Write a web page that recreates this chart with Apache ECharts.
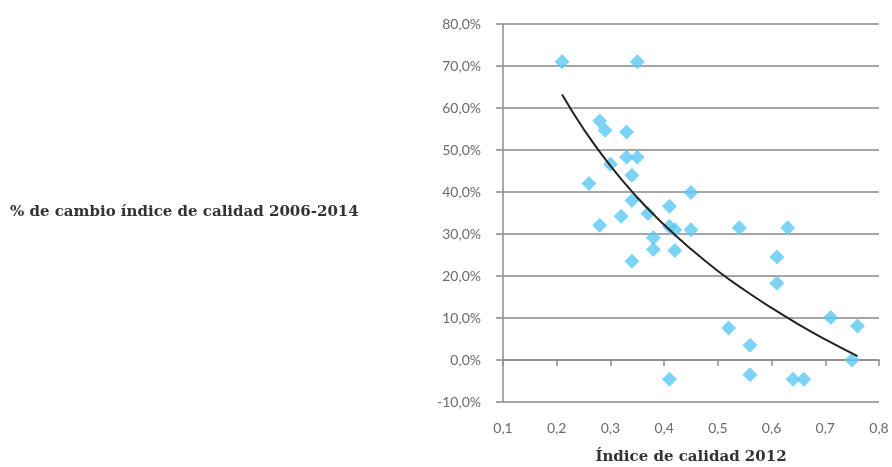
<!DOCTYPE html>
<html>
<head>
<meta charset="utf-8">
<script src="https://cdn.jsdelivr.net/npm/echarts@6/dist/echarts.min.js"></script>
<style>
  html, body { margin: 0; padding: 0; background: #fff; }
  #chart { width: 892px; height: 467px; }
</style>
</head>
<body>
<div id="chart"></div>
<script>
// Índice de calidad 2012 (x) vs % de cambio 2006-2014 (y)
const indice2012 = [0.21, 0.35, 0.28, 0.29, 0.33, 0.30, 0.33, 0.35, 0.34, 0.26, 0.45, 0.34,
  0.41, 0.37, 0.32, 0.28, 0.41, 0.42, 0.45, 0.54, 0.63, 0.38, 0.38, 0.42, 0.34, 0.61,
  0.61, 0.71, 0.76, 0.52, 0.56, 0.75, 0.56, 0.41, 0.64, 0.66];
const cambio = [71, 71, 56.9, 54.7, 54.3, 46.6, 48.3, 48.3, 44, 42, 39.9, 38,
  36.6, 34.9, 34.2, 32.1, 31.8, 31, 31, 31.5, 31.5, 29.1, 26.3, 26.1, 23.5, 24.5,
  18.3, 10.1, 8.1, 7.6, 3.5, 0, -3.5, -4.6, -4.6, -4.6];

// trend line
const trendX = [0.21, 0.25, 0.30, 0.35, 0.40, 0.45, 0.50, 0.55, 0.60, 0.65, 0.70, 0.76];
const trendY = [63.2, 55.0, 46.2, 38.7, 32.2, 26.4, 21.2, 16.6, 12.4, 8.5, 4.9, 0.9];

const yTitle = "% de cambio índice de calidad 2006-2014";
const xTitle = "Índice de calidad 2012";

const chart = echarts.init(document.getElementById("chart"));

const labelFont = { color: "#6b6b6b", fontSize: 14, fontFamily: "Lato" };
const titleFont = "DejaVu Serif";

chart.setOption({
  animation: false,
  grid: { left: 503, right: 13, top: 24, bottom: 65, outerBoundsMode: "none" },
  graphic: [
    {
      type: "text",
      left: 10,
      top: 205,
      style: {
        text: yTitle,
        font: "bold 15px '" + titleFont + "'",
        fill: "#333",
      },
    },
  ],
  xAxis: {
    type: "value",
    min: 0.1,
    max: 0.8,
    interval: 0.1,
    name: xTitle,
    nameLocation: "middle",
    nameGap: 48,
    nameTextStyle: { color: "#333", fontSize: 15, fontWeight: "bold", fontFamily: titleFont },
    axisLine: { show: true, lineStyle: { color: "#8c8c8c", width: 1.5 } },
    axisTick: { show: true, length: 6, lineStyle: { color: "#8c8c8c", width: 1.5 } },
    splitLine: { show: false },
    axisLabel: Object.assign({
      margin: 19,
      formatter: (v) => v.toFixed(1).replace(".", ","),
    }, labelFont),
  },
  yAxis: {
    type: "value",
    min: -10,
    max: 80,
    interval: 10,
    axisLine: { show: true, lineStyle: { color: "#8c8c8c", width: 1.5 } },
    axisTick: { show: true, length: 7, lineStyle: { color: "#a6a6a6", width: 2 } },
    splitLine: { show: true, lineStyle: { color: "#a6a6a6", width: 2 } },
    axisLabel: Object.assign({
      margin: 22,
      formatter: (v) => v.toFixed(1).replace(".", ",") + "%",
    }, labelFont),
  },
  series: [
    {
      type: "scatter",
      symbol: "diamond",
      symbolSize: 15,
      itemStyle: { color: "#5cc8f2" },
      data: indice2012.map((x, i) => [x, cambio[i]]),
      z: 2,
    },
    {
      type: "line",
      smooth: true,
      showSymbol: false,
      lineStyle: { color: "#222", width: 2 },
      data: trendX.map((x, i) => [x, trendY[i]]),
      z: 3,
    },
  ],
});
</script>
</body>
</html>
